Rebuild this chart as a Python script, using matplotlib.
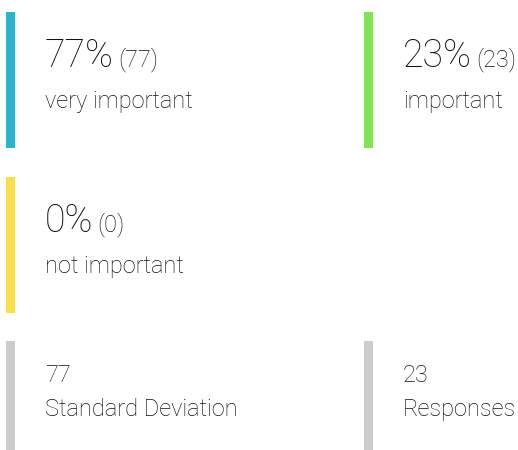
import matplotlib.pyplot as plt
from matplotlib.patches import Rectangle

# Data
labels = ["very important", "important", "not important"]
percents = [77, 23, 0]
counts = [77, 23, 0]
colors = ["#31B2C9", "#86E05B", "#F6DD55"]
stat_labels = ["Standard Deviation", "Responses"]
stat_values = [77, 23]

W, H = 518, 450
fig = plt.figure(figsize=(W / 100, H / 100), dpi=100)
ax = fig.add_axes([0, 0, 1, 1])
ax.set_xlim(0, W)
ax.set_ylim(H, 0)
ax.axis("off")

FONT = "Roboto"
TXT = "#111111"

# card layout: (x, top, bottom)
cards = [(6, 12, 148), (364, 12, 148), (6, 177, 313)]
for (x, top, bot), lab, pct, cnt, col in zip(cards, labels, percents, counts, colors):
    ax.add_patch(Rectangle((x, top), 9, bot - top, color=col, lw=0))
    big = ax.text(x + 39, top + 55, f"{pct}%", fontsize=27, family=FONT,
                  fontweight="light", color=TXT, va="baseline")
    fig.canvas.draw()
    bb = big.get_window_extent()
    x_end = ax.transData.inverted().transform((bb.x1, 0))[0]
    ax.text(x_end + 4, top + 54, f"({cnt})", fontsize=17, family=FONT,
            fontweight="light", color=TXT, va="baseline")
    ax.text(x + 39, top + 96, lab, fontsize=17, family=FONT,
            fontweight="light", color=TXT, va="baseline")

stat_x = [6, 364]
for x, lab, val in zip(stat_x, stat_labels, stat_values):
    ax.add_patch(Rectangle((x, 341), 9, H - 341, color="#CCCCCC", lw=0))
    ax.text(x + 39, 382, str(val), fontsize=17, family=FONT,
            fontweight="light", color=TXT, va="baseline")
    ax.text(x + 39, 416, lab, fontsize=17, family=FONT,
            fontweight="light", color=TXT, va="baseline")

fig.savefig("out.png", dpi=100)
